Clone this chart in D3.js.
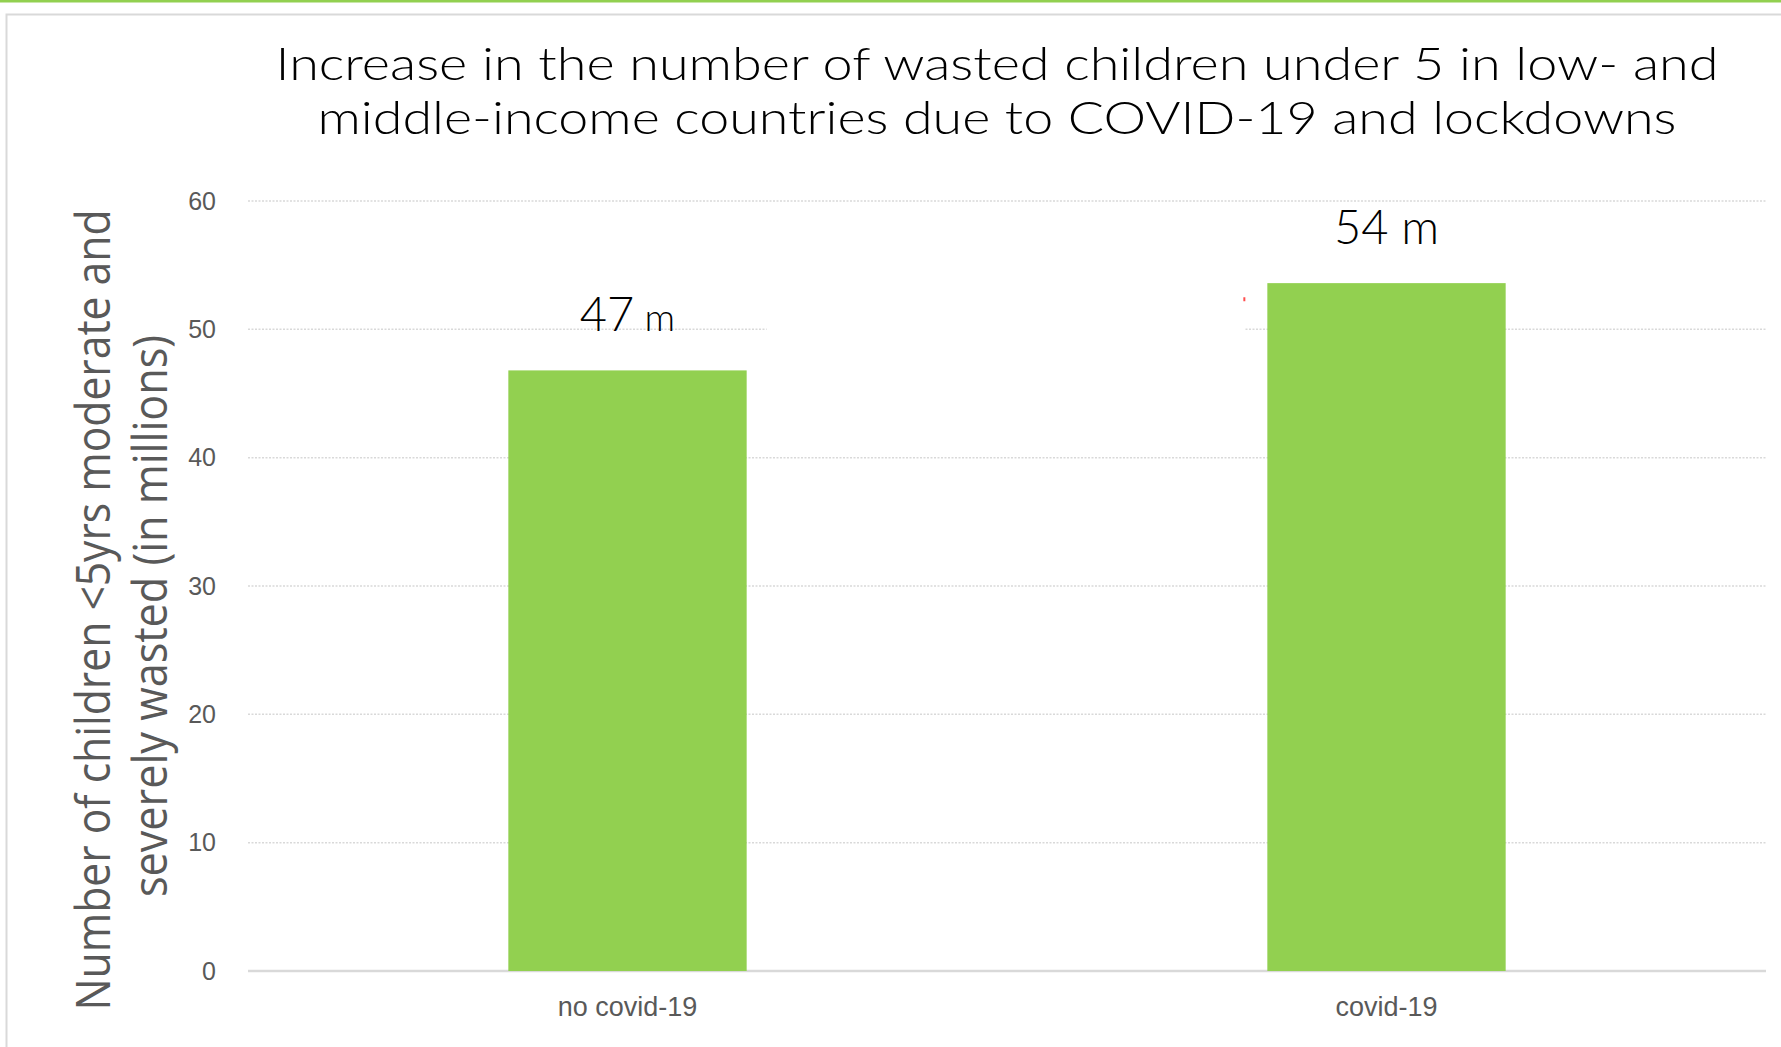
<!DOCTYPE html>
<html>
<head>
<meta charset="utf-8">
<script src="https://cdn.jsdelivr.net/npm/d3@7"></script>
<style>
  body { margin: 0; background: #fff; }
  svg { display: block; }
</style>
</head>
<body>
<div id="chart"></div>
<script>
// data
var categories = ["no covid-19", "covid-19"];
var values = [46.8, 53.6];
var valueLabels = [["47", "m"], ["54", "m"]];
var yTicks = [0, 10, 20, 30, 40, 50, 60];
var titleLines = [
  "Increase in the number of wasted children under 5 in low- and",
  "middle-income countries due to COVID-19 and lockdowns"
];
var yTitleLines = [
  "Number of children <5yrs moderate and",
  "severely wasted (in millions)"
];

var W = 1781, H = 1047;
var margin = {top: 201, right: 15, bottom: 76, left: 248};

var svg = d3.select("#chart").append("svg")
    .attr("width", W)
    .attr("height", H);

// slide frame: green strip on top, grey panel border
svg.append("rect")
    .attr("x", 0).attr("y", 0)
    .attr("width", W).attr("height", 2.5)
    .attr("fill", "#92d050");
svg.append("rect")
    .attr("x", 6.5).attr("y", 14.5)
    .attr("width", W + 20).attr("height", H + 20)
    .attr("fill", "none")
    .attr("stroke", "#d9d9d9")
    .attr("stroke-width", 2);

var x = d3.scaleBand()
    .domain(categories)
    .range([margin.left, W - margin.right])
    .paddingInner(0.686)
    .paddingOuter(0.343);

var y = d3.scaleLinear()
    .domain([0, 60])
    .range([H - margin.bottom, margin.top]);

// gridlines (dotted) except the baseline
svg.append("g")
    .selectAll("line")
    .data(yTicks.filter(function(d) { return d > 0; }))
    .join("line")
        .attr("x1", margin.left)
        .attr("x2", W - margin.right)
        .attr("y1", function(d) { return y(d); })
        .attr("y2", function(d) { return y(d); })
        .attr("stroke", "#d9d9d9")
        .attr("stroke-width", 1.5)
        .attr("stroke-dasharray", "2,1.5");

// baseline
svg.append("line")
    .attr("x1", margin.left)
    .attr("x2", W - margin.right)
    .attr("y1", y(0)).attr("y2", y(0))
    .attr("stroke", "#d9d9d9")
    .attr("stroke-width", 2.5);

// y tick labels through the axis generator
var yAxis = svg.append("g")
    .attr("transform", "translate(" + (margin.left - 32) + ",0)")
    .call(d3.axisLeft(y).tickValues(yTicks).tickSize(0).tickPadding(0));
yAxis.select(".domain").remove();
yAxis.selectAll("text")
    .attr("fill", "#595959")
    .style("font-family", "'Liberation Sans Narrow', 'Liberation Sans', sans-serif")
    .style("font-size", "25px");

// x labels
var xAxis = svg.append("g")
    .attr("transform", "translate(0," + y(0) + ")")
    .call(d3.axisBottom(x).tickSize(0).tickPadding(26));
xAxis.select(".domain").remove();
xAxis.selectAll("text")
    .attr("fill", "#595959")
    .style("font-family", "'Liberation Sans Narrow', 'Liberation Sans', sans-serif")
    .style("font-size", "27px");

// bars
svg.append("g")
    .selectAll("rect")
    .data(values)
    .join("rect")
        .attr("x", function(d, i) { return x(categories[i]); })
        .attr("y", function(d) { return y(d); })
        .attr("width", x.bandwidth())
        .attr("height", function(d) { return y(0) - y(d); })
        .attr("fill", "#92d050");

// white text box left on the slide, hides part of the 50 gridline
var boxX0 = x(categories[0]) + x.bandwidth() + 20;
var boxX1 = x(categories[1]) - 23;
svg.append("rect")
    .attr("x", boxX0)
    .attr("y", y(52.5))
    .attr("width", boxX1 - boxX0)
    .attr("height", y(49) - y(52.5))
    .attr("fill", "#fff");
svg.append("line")
    .attr("x1", boxX1).attr("x2", boxX1)
    .attr("y1", y(52.5)).attr("y2", y(52.5) + 4)
    .attr("stroke", "#ff4d4d")
    .attr("stroke-width", 2);

// value labels
var lab = svg.append("g")
    .selectAll("text")
    .data(values)
    .join("text")
        .attr("x", function(d, i) { return x(categories[i]) + x.bandwidth() / 2; })
        .attr("y", function(d) { return y(d) - 39; })
        .attr("text-anchor", "middle")
        .attr("fill", "#000")
        .style("font-family", "Lato, 'Liberation Sans', sans-serif")
        .style("font-weight", 300)
        .style("font-size", "47px");
lab.append("tspan").text(function(d, i) { return valueLabels[i][0]; });
lab.append("tspan")
    .style("font-size", function(d, i) { return i === 0 ? "38px" : "47px"; })
    .text(function(d, i) { return " " + valueLabels[i][1]; });

// title
var titleLen = [1443, 1359];
svg.append("g")
    .selectAll("text")
    .data(titleLines)
    .join("text")
        .attr("x", 997)
        .attr("y", function(d, i) { return 80 + i * 54; })
        .attr("text-anchor", "middle")
        .attr("textLength", function(d, i) { return titleLen[i]; })
        .attr("lengthAdjust", "spacingAndGlyphs")
        .attr("fill", "#000")
        .style("font-family", "Lato, 'Liberation Sans', sans-serif")
        .style("font-weight", 300)
        .style("font-size", "46px")
        .text(function(d) { return d; });

// y axis title, two rotated lines
var yTitleLen = [801, 562];
var yTitleBase = [110, 167];
svg.append("g")
    .selectAll("text")
    .data(yTitleLines)
    .join("text")
        .attr("transform", function(d, i) {
            return "translate(" + yTitleBase[i] + "," + (610 + i * 6) + ") rotate(-90)";
        })
        .attr("text-anchor", "middle")
        .attr("textLength", function(d, i) { return yTitleLen[i]; })
        .attr("lengthAdjust", "spacingAndGlyphs")
        .attr("fill", "#595959")
        .style("font-family", "'Open Sans', 'Liberation Sans', sans-serif")
        .style("font-size", "48px")
        .text(function(d) { return d; });
</script>
</body>
</html>
